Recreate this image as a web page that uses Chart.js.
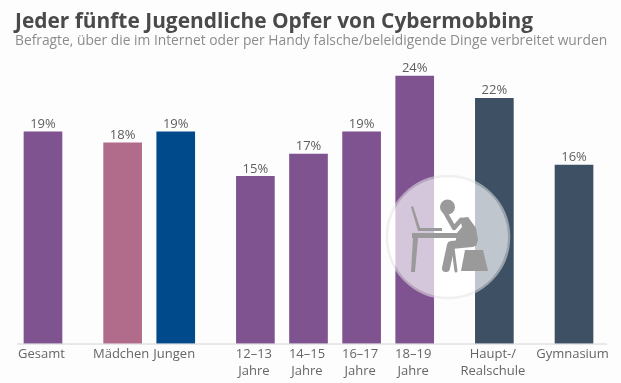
<!DOCTYPE html>
<html>
<head>
<meta charset="utf-8">
<script src="https://cdn.jsdelivr.net/npm/chart.js@4"></script>
<style>
  html, body { margin: 0; padding: 0; background: #fdfdfd; }
  #wrap { position: relative; width: 621px; height: 383px; overflow: hidden; }
  #chart { position: absolute; left: 0; top: 0; }
  h1, h2 { position: absolute; margin: 0; white-space: nowrap; font-family: "Open Sans", sans-serif; }
  h1 { left: 15px; top: 4px; font-size: 20.9px; line-height: 32px; font-weight: 700; color: #4a4a4a; }
  h2 { left: 15px; top: 30px; font-size: 13.8px; line-height: 20px; font-weight: 400; color: #8c8c8c; }
</style>
</head>
<body>
<div id="wrap">
  <canvas id="chart" width="621" height="383"></canvas>
  <h1>Jeder fünfte Jugendliche Opfer von Cybermobbing</h1>
  <h2>Befragte, über die im Internet oder per Handy falsche/beleidigende Dinge verbreitet wurden</h2>
</div>
<script>
// empty strings are spacer slots, they make the gaps between the groups
const categories = [
  'Gesamt', '', '', 'Mädchen', '', 'Jungen', '', '',
  ['12–13', 'Jahre'], '', ['14–15', 'Jahre'], '', ['16–17', 'Jahre'], '', ['18–19', 'Jahre'], '', '',
  ['Haupt-/', 'Realschule'], '', '', 'Gymnasium'
];
const values = [19, null, null, 18, null, 19, null, null, 15, null, 17, null, 19, null, 24, null, null, 22, null, null, 16];
const purple = '#7e5390', pink = '#b06c8a', blue = '#004a8c', slate = '#3d5064';
const barColors = [purple, null, null, pink, null, blue, null, null, purple, null, purple, null, purple, null, purple, null, null, slate, null, null, slate];

const valueLabels = {
  id: 'valueLabels',
  afterDatasetsDraw(chart) {
    const ctx = chart.ctx;
    const meta = chart.getDatasetMeta(0);
    ctx.save();
    ctx.font = '13px "Open Sans"';
    ctx.fillStyle = '#5e5e5e';
    ctx.textAlign = 'center';
    ctx.textBaseline = 'bottom';
    meta.data.forEach((bar, i) => {
      if (values[i] === null) return;
      ctx.fillText(values[i] + '%', bar.x, bar.y - 1);
    });
    ctx.restore();
  }
};

// the axis line runs wider than the slots, so it is drawn by hand
const baseline = {
  id: 'baseline',
  afterDatasetsDraw(chart) {
    const ctx = chart.ctx;
    const y = chart.chartArea.bottom + 0.5;
    ctx.save();
    ctx.strokeStyle = '#d4d4d4';
    ctx.lineWidth = 1;
    ctx.beginPath();
    ctx.moveTo(17, y);
    ctx.lineTo(607, y);
    ctx.stroke();
    ctx.restore();
  }
};

// round badge with the person at the laptop, sits on top of the bars
const badge = {
  id: 'badge',
  afterDraw(chart) {
    const ctx = chart.ctx;
    const cx = 448, cy = 237;
    ctx.save();
    ctx.beginPath();
    ctx.arc(cx, cy, 60, 0, Math.PI * 2);
    ctx.fillStyle = 'rgba(255,255,255,0.68)';
    ctx.fill();
    ctx.beginPath();
    ctx.arc(cx, cy, 61, 0, Math.PI * 2);
    ctx.lineWidth = 2.5;
    ctx.strokeStyle = 'rgba(230,230,230,0.55)';
    ctx.stroke();

    ctx.fillStyle = '#9a9a9a';
    ctx.strokeStyle = '#9a9a9a';
    ctx.lineCap = 'round';
    ctx.lineJoin = 'round';
    // table
    ctx.fillRect(412, 233, 45, 5);
    ctx.beginPath();
    ctx.moveTo(413, 238); ctx.lineTo(418, 238); ctx.lineTo(415, 272); ctx.lineTo(411, 272);
    ctx.closePath(); ctx.fill();
    // laptop
    ctx.beginPath();
    ctx.moveTo(411, 207); ctx.lineTo(413, 206); ctx.lineTo(420, 228); ctx.lineTo(442, 228); ctx.lineTo(442, 231); ctx.lineTo(418, 231);
    ctx.closePath(); ctx.fill();
    // head
    ctx.beginPath();
    ctx.arc(447.5, 207, 7.5, 0, Math.PI * 2);
    ctx.fill();
    // torso
    ctx.beginPath();
    ctx.moveTo(460, 218); ctx.lineTo(468, 217); ctx.lineTo(476, 228); ctx.lineTo(478, 240);
    ctx.lineTo(476, 246); ctx.lineTo(455, 246); ctx.lineTo(457, 233); ctx.lineTo(462, 227);
    ctx.closePath(); ctx.fill();
    // arm up to the head
    ctx.lineWidth = 4.5;
    ctx.beginPath();
    ctx.moveTo(445, 212); ctx.lineTo(454, 228); ctx.lineTo(461, 220);
    ctx.stroke();
    // legs
    ctx.lineWidth = 8;
    ctx.beginPath();
    ctx.moveTo(472, 243); ctx.lineTo(451, 245); ctx.lineTo(446, 268);
    ctx.stroke();
    ctx.lineWidth = 3;
    ctx.beginPath();
    ctx.moveTo(453, 248); ctx.lineTo(456, 271);
    ctx.stroke();
    // stool
    ctx.beginPath();
    ctx.moveTo(465, 250); ctx.lineTo(483, 250); ctx.lineTo(488, 271); ctx.lineTo(461, 271);
    ctx.closePath(); ctx.fill();
    ctx.restore();
  }
};

new Chart(document.getElementById('chart'), {
  type: 'bar',
  data: {
    labels: categories,
    datasets: [{ data: values, backgroundColor: barColors, barThickness: 38, clip: false }]
  },
  options: {
    responsive: false,
    animation: false,
    layout: { padding: { left: 29.7, right: 33.7, top: 76, bottom: 0 } },
    plugins: { legend: { display: false }, tooltip: { enabled: false } },
    scales: {
      x: {
        afterFit(scale) { scale.height = 39.5; },
        grid: { display: false, drawTicks: false },
        border: { display: false },
        ticks: {
          autoSkip: false, maxRotation: 0, minRotation: 0, padding: 2, labelOffset: -1.5,
          color: '#666', font: { family: '"Open Sans"', size: 13, lineHeight: 1.32 }
        }
      },
      y: { display: false, min: 0, max: 24 }
    }
  },
  plugins: [baseline, valueLabels, badge]
});
</script>
</body>
</html>
